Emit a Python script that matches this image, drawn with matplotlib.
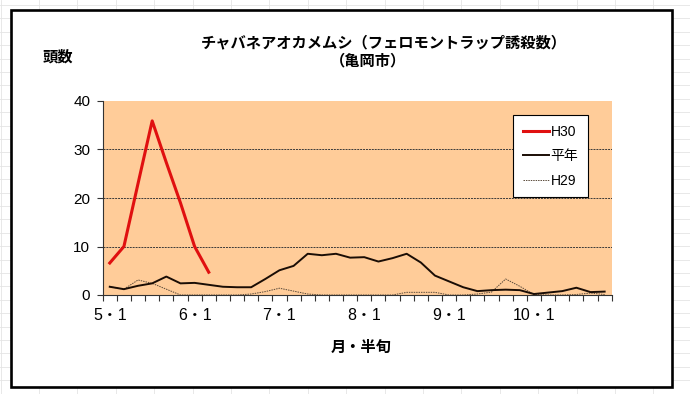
import numpy as np
import matplotlib
matplotlib.use("Agg")
from matplotlib import pyplot as plt
from matplotlib.patches import Rectangle

# data: 5月1半旬 .. 10月6半旬 (36 pentads)
h30 = [6.6, 10.0, 23.0, 35.9, 27.3, 19.0, 10.0, 4.7]
heinen = [1.7, 1.2, 1.9, 2.4, 3.8, 2.4, 2.5, 2.1, 1.7, 1.6,
          1.6, 3.3, 5.1, 6.0, 8.5, 8.2, 8.5, 7.7, 7.8, 6.9,
          7.6, 8.5, 6.7, 4.0, 2.8, 1.6, 0.8, 1.0, 1.1, 1.0,
          0.2, 0.5, 0.8, 1.5, 0.6, 0.7]
h29 = [1.7, 1.2, 3.1, 2.4, 1.2, 0, 0, 0, 0, 0,
       0.2, 0.7, 1.4, 0.8, 0.2, 0, 0, 0, 0, 0,
       0, 0.55, 0.55, 0.55, 0, 0, 0.2, 0.6, 3.3, 1.8,
       0.1, 0, 0, 0.1, 0.4, 0.1]
month_labels = ["5・1", "6・1", "7・1", "8・1", "9・1", "10・1"]
series_names = ["H30", "平年", "H29"]

JP = ["Noto Sans CJK JP", "DejaVu Sans"]
NUM = ["Liberation Sans", "Noto Sans CJK JP", "DejaVu Sans"]

W, H = 690, 394
fig = plt.figure(figsize=(W / 100, H / 100), dpi=100)
fig.patch.set_facecolor("white")

# faint spreadsheet cells behind the chart
for gx in np.arange(0.5, W, 38.4):
    fig.add_artist(plt.Line2D([gx / W, gx / W], [0, 1], color="#e4e4e4", lw=0.6, zorder=0))
for gy in np.arange(0.5, H, 13.4):
    fig.add_artist(plt.Line2D([0, 1], [gy / H, gy / H], color="#e4e4e4", lw=0.6, zorder=0))

# chart area (white with black frame)
fig.add_artist(Rectangle((11 / W, (H - 386.5) / H), 661 / W, 377 / H,
                         facecolor="white", edgecolor="black", lw=1.9, zorder=1))

ax = fig.add_axes([102.7 / W, (H - 295) / H, 509 / W, 194 / H])
ax.set_zorder(2)
ax.set_facecolor("#FFCC99")

x = np.arange(len(heinen)) + 0.5
ax.plot(x, h29, color="#5a4a3a", lw=0.7, ls=(0, (1.5, 1)), label=series_names[2], zorder=3)
ax.plot(x, heinen, color="#1a0d05", lw=1.4, label=series_names[1], zorder=4)
ax.plot(x[:len(h30)], h30, color="#e01010", lw=2.2, label=series_names[0], zorder=5)

ax.set_xlim(0, 36)
ax.set_ylim(0, 40)
ax.set_yticks([0, 10, 20, 30, 40])
for yv in [10, 20, 30]:
    ax.axhline(yv, color="#3a3a3a", lw=0.7, ls=(0, (2, 1)), zorder=2)

ax.set_xticks(np.arange(0.5, 36, 6))
ax.set_xticklabels(month_labels, family=NUM, fontsize=11.5)
ax.set_xticks(np.arange(0, 37), minor=True)
ax.tick_params(axis="x", which="major", length=0, pad=9)
ax.tick_params(axis="x", which="minor", length=4, direction="out", color="#333333", width=0.8)
ax.tick_params(axis="y", length=4, direction="out", color="#333333", width=0.8, pad=5)
for lab in ax.get_yticklabels():
    lab.set_family(NUM)
    lab.set_fontsize(11)

for s in ["top", "right"]:
    ax.spines[s].set_visible(False)
for s in ["left", "bottom"]:
    ax.spines[s].set_color("#333333")
    ax.spines[s].set_linewidth(0.8)

handles, labels = ax.get_legend_handles_labels()
order = [2, 1, 0]
leg = ax.legend([handles[i] for i in order], [labels[i] for i in order],
                loc="upper left", bbox_to_anchor=(0.806, 0.928), borderaxespad=0,
                fancybox=False, edgecolor="black", framealpha=1, handlelength=1.9,
                handletextpad=0.1, labelspacing=0.75, borderpad=0.7,
                prop={"family": NUM, "size": 10})
leg.get_frame().set_linewidth(0.8)
leg.set_zorder(6)

fig.text(384 / W, 1 - 42.5 / H, "チャバネアオカメムシ（フェロモントラップ誘殺数）",
         family=JP, fontsize=11, fontweight="bold", ha="center", va="center")
fig.text(367.5 / W, 1 - 60.5 / H, "（亀岡市）",
         family=JP, fontsize=11, fontweight="bold", ha="center", va="center")
fig.text(58 / W, 1 - 57 / H, "頭数", family=JP, fontsize=11, fontweight="bold",
         ha="center", va="center")
fig.text(361 / W, 1 - 347 / H, "月・半旬", family=JP, fontsize=11, fontweight="bold",
         ha="center", va="center")

fig.savefig("out.png", dpi=100)
